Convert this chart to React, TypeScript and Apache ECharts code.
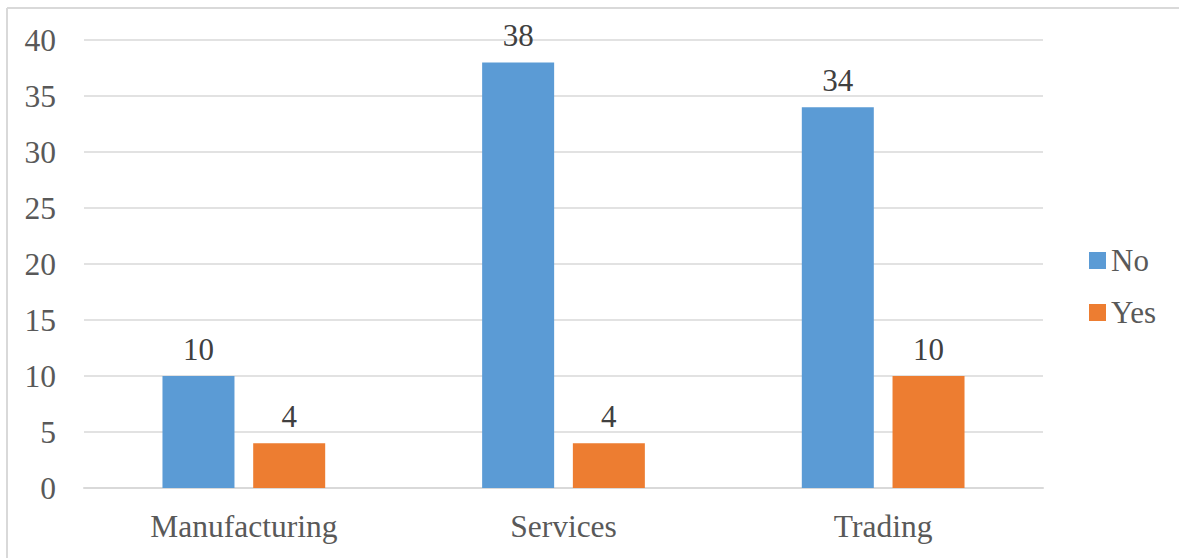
import React, { useEffect, useRef } from "react";
import * as echarts from "echarts";

const categories = ["Manufacturing", "Services", "Trading"];
const noValues = [10, 38, 34];
const yesValues = [4, 4, 10];
const seriesNames = ["No", "Yes"];

export default function App() {
  const ref = useRef<HTMLDivElement>(null);
  useEffect(() => {
    const chart = echarts.init(ref.current!, null, { renderer: "svg" });
    const font = "Liberation Serif";
    const labelStyle = {
      show: true,
      position: "top" as const,
      distance: 11,
      color: "#404040",
      fontSize: 31,
      fontFamily: font,
    };
    chart.setOption({
      animation: false,
      backgroundColor: "#ffffff",
      textStyle: { fontFamily: font },
      grid: { left: 84, right: 136, top: 40, bottom: 70 },
      legend: {
        orient: "vertical",
        left: 1084,
        top: 240,
        itemWidth: 17,
        itemHeight: 17,
        itemGap: 21,
        icon: "rect",
        textStyle: { fontSize: 31, color: "#595959", fontFamily: font, lineHeight: 31 },
        data: seriesNames,
      },
      xAxis: {
        type: "category",
        data: categories,
        axisLine: { lineStyle: { color: "#D9D9D9", width: 2 } },
        axisTick: { show: false },
        axisLabel: { fontSize: 31.5, color: "#595959", fontFamily: font, margin: 22 },
      },
      yAxis: {
        type: "value",
        min: 0,
        max: 40,
        interval: 5,
        axisLine: { show: false },
        axisTick: { show: false },
        splitLine: { lineStyle: { color: "#D9D9D9", width: 1.5 } },
        axisLabel: { fontSize: 31.5, color: "#595959", fontFamily: font, margin: 28 },
      },
      series: [
        {
          name: seriesNames[0],
          type: "bar",
          data: noValues,
          barWidth: 72,
          barGap: "26%",
          itemStyle: { color: "#5B9BD5" },
          label: labelStyle,
        },
        {
          name: seriesNames[1],
          type: "bar",
          data: yesValues,
          barWidth: 72,
          itemStyle: { color: "#ED7D31" },
          label: labelStyle,
        },
      ],
      graphic: [
        { type: "line", shape: { x1: 7, y1: 8, x2: 1179, y2: 8 }, style: { stroke: "#D9D9D9", lineWidth: 2 } },
        { type: "line", shape: { x1: 7, y1: 8, x2: 7, y2: 558 }, style: { stroke: "#D9D9D9", lineWidth: 2 } },
      ],
    });
    return () => chart.dispose();
  }, []);
  return (
    <div
      ref={ref}
      style={{ position: "absolute", left: 0, top: 0, width: 1179, height: 558 }}
    />
  );
}
